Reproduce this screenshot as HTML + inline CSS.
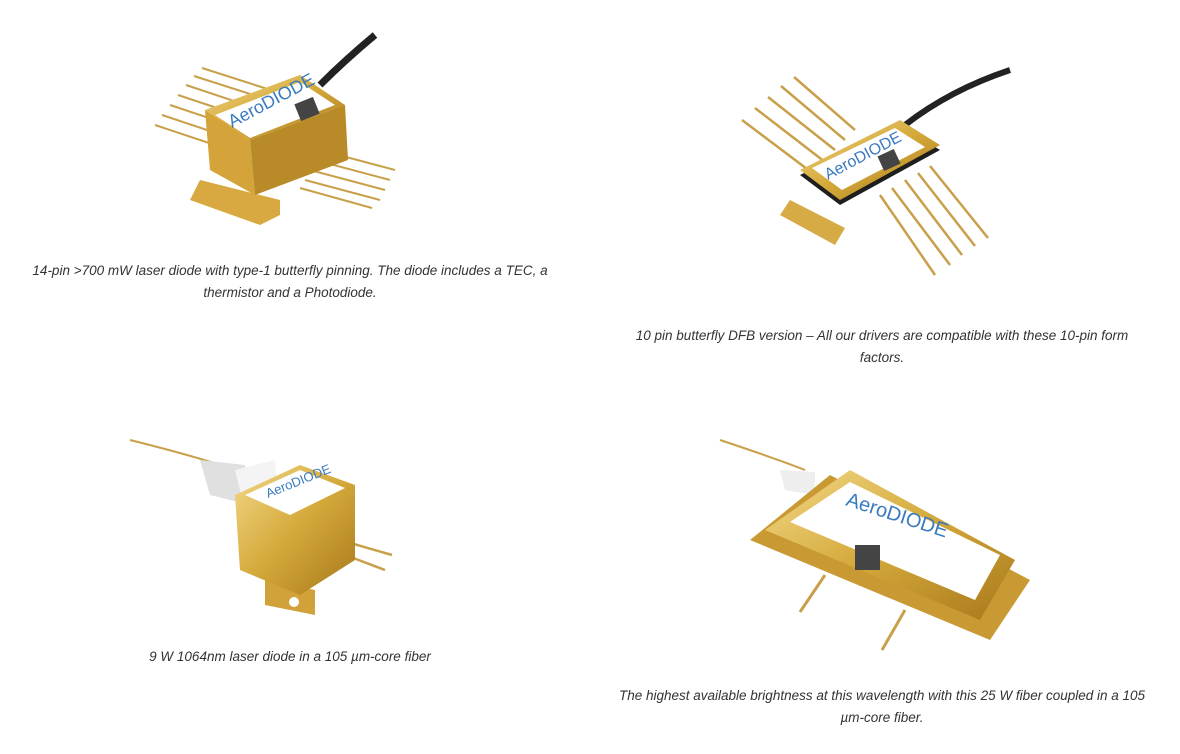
<!DOCTYPE html>
<html><head><style>
body{margin:0;width:1180px;height:754px;background:#fff;position:relative;overflow:hidden;font-family:"Liberation Sans",sans-serif;}
.c{position:absolute;font-style:italic;font-size:13.5px;color:#333;text-align:center;white-space:nowrap;line-height:22px;transform:translateX(-50%);}
svg{position:absolute;left:0;top:0}
</style></head><body>
<svg width="1180" height="754">
<defs>
<linearGradient id="g" x1="0" y1="0" x2="1" y2="1"><stop offset="0" stop-color="#f3d98a"/><stop offset="0.5" stop-color="#d4a93a"/><stop offset="1" stop-color="#a8781c"/></linearGradient>
</defs>
<!-- product 1 -->
<g stroke="#c9a04a" stroke-width="2">
<line x1="155" y1="125" x2="230" y2="150"/><line x1="162" y1="115" x2="237" y2="140"/><line x1="170" y1="105" x2="245" y2="130"/><line x1="178" y1="95" x2="253" y2="120"/><line x1="186" y1="85" x2="261" y2="110"/><line x1="194" y1="76" x2="269" y2="100"/><line x1="202" y1="68" x2="277" y2="92"/>
<line x1="320" y1="150" x2="395" y2="170"/><line x1="315" y1="160" x2="390" y2="180"/><line x1="310" y1="170" x2="385" y2="190"/><line x1="305" y1="180" x2="380" y2="200"/><line x1="300" y1="188" x2="372" y2="208"/>
</g>
<path d="M320 85 Q345 60 375 35" stroke="#222" stroke-width="7" fill="none"/>
<polygon points="190,200 260,225 280,215 280,200 200,180" fill="#d7a940"/>
<polygon points="205,110 300,75 345,105 250,140" fill="url(#g)"/>
<polygon points="205,110 250,140 255,195 210,170" fill="#d4a43a"/>
<polygon points="250,140 345,105 348,160 255,195" fill="#b98a28"/>
<polygon points="215,115 300,82 335,105 250,138" fill="#fff"/>
<text x="232" y="128" font-size="18" fill="#3a7bbf" transform="rotate(-28 232 128)" font-family="Liberation Sans">AeroDIODE</text>
<!-- product 2 -->
<g stroke="#c9a04a" stroke-width="2.5">
<line x1="742" y1="120" x2="815" y2="175"/><line x1="755" y1="108" x2="825" y2="162"/><line x1="768" y1="97" x2="835" y2="150"/><line x1="781" y1="86" x2="845" y2="140"/><line x1="794" y1="77" x2="855" y2="130"/>
<line x1="880" y1="195" x2="935" y2="275"/><line x1="892" y1="188" x2="950" y2="265"/><line x1="905" y1="180" x2="962" y2="255"/><line x1="918" y1="173" x2="975" y2="246"/><line x1="930" y1="166" x2="988" y2="238"/>
</g>
<path d="M905 125 Q950 90 1010 70" stroke="#222" stroke-width="6" fill="none"/>
<polygon points="780,215 835,245 845,228 790,200" fill="#d6aa45"/>
<polygon points="800,175 900,125 940,150 840,205" fill="#1e1e1e"/>
<polygon points="800,170 900,120 940,145 840,200" fill="url(#g)"/>
<polygon points="812,168 895,128 925,147 842,190" fill="#fff"/>
<text x="828" y="180" font-size="16" fill="#3a7bbf" transform="rotate(-28 828 180)">AeroDIODE</text>
<!-- product 3 -->
<path d="M130 440 Q190 455 220 465" stroke="#c9a04a" stroke-width="2" fill="none"/>
<polygon points="200,460 245,465 250,505 210,495" fill="#e0e0e0"/>
<polygon points="235,470 275,460 280,512 245,510" fill="#f4f4f4"/>
<g stroke="#c9a04a" stroke-width="2.5"><line x1="340" y1="540" x2="392" y2="555"/><line x1="340" y1="553" x2="385" y2="570"/></g>
<polygon points="265,580 315,590 315,615 265,605" fill="#d2a23a"/>
<circle cx="294" cy="602" r="5" fill="#fff"/>
<polygon points="235,495 300,465 355,485 355,560 300,595 240,570" fill="url(#g)"/>
<polygon points="245,495 300,470 345,488 290,515" fill="#fff"/>
<text x="268" y="498" font-size="13" fill="#3a7bbf" transform="rotate(-22 268 498)">AeroDIODE</text>
<!-- product 4 -->
<path d="M720 440 Q780 460 805 470" stroke="#c9a04a" stroke-width="2" fill="none"/>
<polygon points="780,470 815,472 815,495 785,490" fill="#eee"/>
<polygon points="750,540 990,640 1030,580 830,475" fill="#c99a33"/>
<polygon points="765,530 980,620 1015,560 850,470" fill="url(#g)"/>
<polygon points="790,522 975,600 1000,555 850,482" fill="#fff"/>
<text x="845" y="505" font-size="20" fill="#3a7bbf" transform="rotate(18 845 505)">AeroDIODE</text>
<rect x="855" y="545" width="25" height="25" fill="#444"/>
<rect x="297" y="100" width="20" height="18" fill="#444" transform="rotate(-22 307 109)"/>
<rect x="880" y="152" width="18" height="16" fill="#444" transform="rotate(-25 889 160)"/>
<g stroke="#c9a04a" stroke-width="3"><line x1="825" y1="575" x2="800" y2="612"/><line x1="905" y1="610" x2="882" y2="650"/></g>
</svg>
<div class="c" style="left:290px;top:260px">14-pin &gt;700 mW laser diode with type-1 butterfly pinning. The diode includes a TEC, a<br>thermistor and a Photodiode.</div>
<div class="c" style="left:882px;top:325px">10 pin butterfly DFB version – All our drivers are compatible with these 10-pin form<br>factors.</div>
<div class="c" style="left:290px;top:646px">9 W 1064nm laser diode in a 105 µm-core fiber</div>
<div class="c" style="left:882px;top:685px">The highest available brightness at this wavelength with this 25 W fiber coupled in a 105<br>µm-core fiber.</div>
</body></html>
